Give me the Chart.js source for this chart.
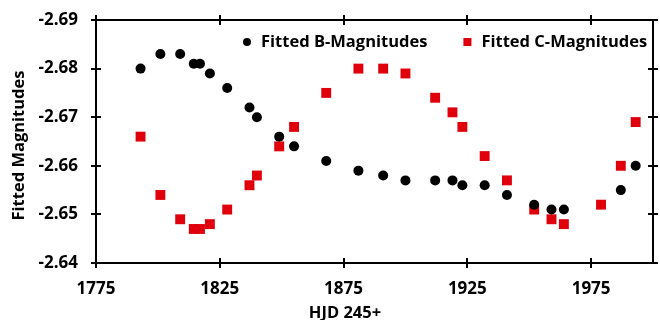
<!DOCTYPE html>
<html>
<head>
<meta charset="utf-8">
<script src="https://cdn.jsdelivr.net/npm/chart.js@4/dist/chart.umd.min.js"></script>
<style>
  body { margin: 0; background: #fff; }
  #wrap { width: 660px; height: 320px; }
</style>
</head>
<body>
<div id="wrap"><canvas id="mag-chart" width="660" height="320"></canvas></div>
<script>
/* ======== DATA ======== */
const hjd = [1793, 1801, 1809, 1814.5, 1817, 1821, 1828, 1837, 1840, 1849, 1855, 1868, 1881,
             1891, 1900, 1912, 1919, 1923, 1932, 1941, 1952, 1959, 1964, 1979, 1987, 1993]
const bMags = [-2.680, -2.683, -2.683, -2.681, -2.681, -2.679, -2.676, -2.672, -2.670, -2.666, -2.664, -2.661, -2.659,
               -2.658, -2.657, -2.657, -2.657, -2.656, -2.656, -2.654, -2.652, -2.651, -2.651, null, -2.655, -2.660]
const cMags = [-2.666, -2.654, -2.649, -2.647, -2.647, -2.648, -2.651, -2.656, -2.658, -2.664, -2.668, -2.675, -2.680,
               -2.680, -2.679, -2.674, -2.671, -2.668, -2.662, -2.657, -2.651, -2.649, -2.648, -2.652, -2.660, -2.669]
const xTicks = [1775, 1825, 1875, 1925, 1975]
const yTicks = [-2.69, -2.68, -2.67, -2.66, -2.65, -2.64]
const xTitle = "HJD 245+"
const yTitle = "Fitted Magnitudes"

const RED = "#E0000C"
const FONT = "'Open Sans'"

function toPoints(xs, ys) {
    const pts = []
    xs.forEach((x, i) => {
        if (ys[i] !== null) pts.push({x: x, y: ys[i]})
    })
    return pts
}

/* box round the plot with ticks crossing all four sides */
const frameTicks = {
    id: "frameTicks",
    afterDraw(chart) {
        const {ctx, chartArea: a, scales} = chart
        const len = 5
        ctx.save()
        ctx.strokeStyle = "#000"
        ctx.lineWidth = 2
        ctx.strokeRect(a.left, a.top, a.right - a.left, a.bottom - a.top)
        ctx.beginPath()
        xTicks.forEach(v => {
            const px = Math.round(scales.x.getPixelForValue(v))
            ctx.moveTo(px, a.bottom - len); ctx.lineTo(px, a.bottom + len)
            ctx.moveTo(px, a.top - len); ctx.lineTo(px, a.top + len)
        })
        yTicks.forEach(v => {
            const py = Math.round(scales.y.getPixelForValue(v))
            ctx.moveTo(a.left - len, py); ctx.lineTo(a.left + len, py)
            ctx.moveTo(a.right - len, py); ctx.lineTo(a.right + len, py)
        })
        ctx.stroke()
        ctx.restore()
    }
}

/* axis titles: the x title sits left of the plot centre */
const axisTitles = {
    id: "axisTitles",
    afterDraw(chart) {
        const {ctx, chartArea: a} = chart
        ctx.save()
        ctx.font = "bold 16.5px " + FONT
        ctx.fillStyle = "#000"
        ctx.textAlign = "center"
        ctx.textBaseline = "middle"
        ctx.fillText(xTitle, 345, 313)
        ctx.translate(19, (a.top + a.bottom) / 2 + 4)
        ctx.rotate(-Math.PI / 2)
        ctx.fillText(yTitle, 0, 0)
        ctx.restore()
    }
}

/* legend drawn inside the plot, along the top */
const insideLegend = {
    id: "insideLegend",
    afterDraw(chart) {
        const {ctx, chartArea: a} = chart
        const y = a.top + 22
        let x = a.left + 151
        ctx.save()
        ctx.font = "bold 16.5px " + FONT
        ctx.textBaseline = "middle"
        chart.data.datasets.forEach(ds => {
            ctx.fillStyle = ds.backgroundColor
            if (ds.pointStyle === "rect") {
                ctx.fillRect(x - 4, y - 4, 8, 8)
            } else {
                ctx.beginPath()
                ctx.arc(x, y, 4, 0, Math.PI * 2)
                ctx.fill()
            }
            ctx.fillStyle = "#000"
            ctx.fillText(ds.label, x + 14, y)
            x += 14 + ctx.measureText(ds.label).width + 40
        })
        ctx.restore()
    }
}

/* ======== CHART ======== */
const ctxMag = document.getElementById("mag-chart").getContext("2d");
const magChart = new Chart(ctxMag, {
    type: 'scatter',
    data: {
        datasets: [{
            label: "Fitted B-Magnitudes",
            data: toPoints(hjd, bMags),
            backgroundColor: "#000",
            borderColor: "#000",
            pointStyle: "circle",
            pointRadius: 5,
            pointBorderWidth: 0
        }, {
            label: "Fitted C-Magnitudes",
            data: toPoints(hjd, cMags),
            backgroundColor: RED,
            borderColor: RED,
            pointStyle: "rect",
            pointRadius: 7,
            pointBorderWidth: 0
        }]
    },
    options: {
        responsive: false,
        animation: false,
        layout: {padding: {top: 20, right: 2, left: 0, bottom: 0}},
        plugins: {
            legend: {display: false},
            tooltip: {enabled: false}
        },
        scales: {
            x: {
                type: 'linear',
                min: 1775,
                max: 2000,
                afterBuildTicks: s => { s.ticks = xTicks.map(v => ({value: v})) },
                afterFit: s => { s.height = 57; s.paddingLeft = 0; s.paddingRight = 0 },
                grid: {display: false, drawTicks: false},
                border: {display: false},
                ticks: {
                    color: "#000",
                    padding: 16,
                    maxRotation: 0,
                    font: {family: FONT, size: 17, weight: "bold"},
                    callback: v => String(v)
                }
            },
            y: {
                min: -2.69,
                max: -2.64,
                reverse: true,
                afterBuildTicks: s => { s.ticks = yTicks.map(v => ({value: v})) },
                afterFit: s => { s.width = 96; s.paddingTop = 0; s.paddingBottom = 0 },
                grid: {display: false, drawTicks: false},
                border: {display: false},
                ticks: {
                    color: "#000",
                    padding: 18,
                    font: {family: FONT, size: 17, weight: "bold"},
                    callback: v => v.toFixed(2)
                }
            }
        }
    },
    plugins: [frameTicks, axisTitles, insideLegend]
});
</script>
</body>
</html>
